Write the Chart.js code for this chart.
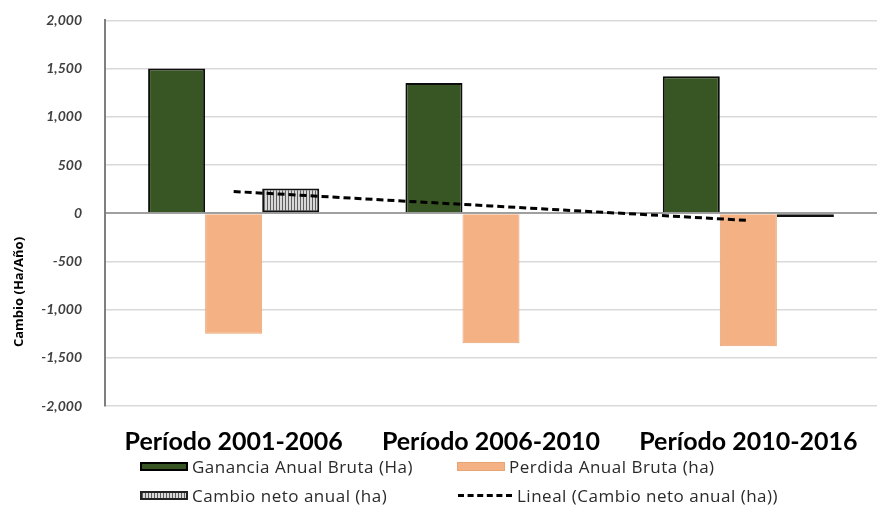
<!DOCTYPE html>
<html>
<head>
<meta charset="utf-8">
<script src="https://cdn.jsdelivr.net/npm/chart.js@4"></script>
<style>
  body { margin: 0; background: #fff; }
  .wrap { position: relative; width: 877px; height: 512px; overflow: hidden; }
  #chart { position: absolute; left: 0; top: -11px; }
  .legend { position: absolute; left: 0; top: 0; font-family: "Open Sans", sans-serif; font-size: 17px; letter-spacing: 0.5px; color: #2a2a2a; }
  .item { position: absolute; display: flex; align-items: center; white-space: nowrap; }
  .sw { width: 48px; height: 9px; margin-right: 4px; box-sizing: border-box; }
  .dash { width: 54px; height: 0; border-top: 3px dashed #000; margin-right: 5px; }
</style>
</head>
<body>
<div class="wrap">
  <canvas id="chart" width="877" height="523"></canvas>
  <div class="legend">
    <div class="item" style="left:140px;top:455px"><span class="sw" style="background:#375623;border:2px solid #000"></span>Ganancia Anual Bruta (Ha)</div>
    <div class="item" style="left:457px;top:455px"><span class="sw" style="background:#f4b183;border:1px solid #e9a474"></span>Perdida Anual Bruta (ha)</div>
    <div class="item" style="left:140px;top:484px"><span class="sw" id="netSw" style="border:2px solid #222"></span>Cambio neto anual (ha)</div>
    <div class="item" style="left:458px;top:484px"><span class="dash"></span>Lineal (Cambio neto anual (ha))</div>
  </div>
</div>
<script>
const periods = ['Período 2001-2006', 'Período 2006-2010', 'Período 2010-2016'];
const gananciaBruta = [1500, 1350, 1420];
const perdidaBruta = [-1250, -1350, -1380];
const cambioNeto = [255, 0, -40];
const linealNeto = [225, 75, -75];
const yTicks = [-2000, -1500, -1000, -500, 0, 500, 1000, 1500, 2000];

// vertical gray stripes for the net change bars
function stripes() {
  const c = document.createElement('canvas');
  c.width = 3; c.height = 3;
  const g = c.getContext('2d');
  g.fillStyle = '#d8d8d8';
  g.fillRect(0, 0, 3, 3);
  g.fillStyle = '#5e5e5e';
  g.fillRect(0, 0, 1, 3);
  return c;
}
const ctx = document.querySelector('#chart').getContext('2d');
const netFill = ctx.createPattern(stripes(), 'repeat');
document.querySelector('#netSw').style.background =
  'repeating-linear-gradient(90deg,#5e5e5e 0 1px,#d8d8d8 1px 3px)';

// rotated axis title, placed below the middle of the axis
const yTitle = {
  id: 'yTitle',
  afterDraw(chart) {
    const c = chart.ctx;
    c.save();
    c.translate(19, 303);
    c.rotate(-Math.PI / 2);
    c.font = 'bold 13px "Open Sans", sans-serif';
    c.fillStyle = '#000';
    c.textAlign = 'center';
    c.textBaseline = 'middle';
    c.fillText('Cambio (Ha/Año)', 0, 0);
    c.restore();
  }
};

new Chart(ctx, {
  type: 'bar',
  data: {
    labels: periods,
    datasets: [
      {
        type: 'line',
        label: 'Lineal (Cambio neto anual (ha))',
        data: linealNeto,
        borderColor: '#000',
        borderWidth: 3,
        borderDash: [7, 4],
        pointRadius: 0,
        fill: false,
        order: 0
      },
      {
        label: 'Ganancia Anual Bruta (Ha)',
        data: gananciaBruta,
        backgroundColor: '#375623',
        borderColor: '#0d0d0d',
        borderWidth: 2,
        order: 1
      },
      {
        label: 'Perdida Anual Bruta (ha)',
        data: perdidaBruta,
        backgroundColor: '#f4b183',
        borderColor: '#e9a474',
        borderWidth: 1,
        order: 1
      },
      {
        label: 'Cambio neto anual (ha)',
        data: cambioNeto,
        backgroundColor: netFill,
        borderColor: '#111',
        borderWidth: 2,
        borderSkipped: false,
        order: 1
      }
    ]
  },
  options: {
    responsive: false,
    animation: false,
    layout: { padding: 0 },
    datasets: { bar: { categoryPercentage: 0.665, barPercentage: 1 } },
    plugins: { legend: { display: false }, tooltip: { enabled: false } },
    scales: {
      x: {
        grid: { display: false },
        border: { display: false },
        ticks: {
          color: '#000',
          padding: 13,
          font: { family: 'Lato, sans-serif', size: 25, weight: 'bold' }
        },
        afterFit(scale) { scale.height = 106; }
      },
      y: {
        min: -2000,
        max: 2000,
        afterBuildTicks(scale) { scale.ticks = yTicks.map(v => ({ value: v })); },
        afterFit(scale) { scale.width = 105; },
        border: { color: '#7f7f7f', width: 2 },
        grid: {
          drawTicks: false,
          color: ctx => ctx.tick && ctx.tick.value === 0 ? '#a0a0a0' : '#d9d9d9',
          lineWidth: ctx => ctx.tick && ctx.tick.value === 0 ? 2 : 1.5
        },
        ticks: {
          padding: 23,
          color: '#404040',
          font: { family: 'Lato, sans-serif', size: 14, style: 'italic', weight: 'bold' },
          callback: v => v.toLocaleString('en-US')
        }
      }
    }
  },
  plugins: [yTitle]
});
</script>
</body>
</html>
